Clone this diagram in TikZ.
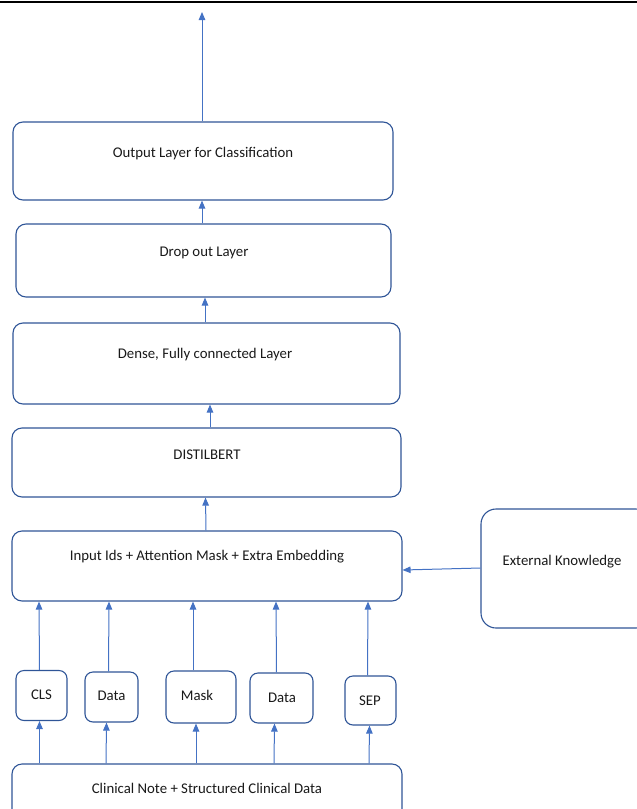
\documentclass[tikz,border=0pt]{standalone}
\usepackage{fontspec}
\setmainfont{Carlito}
\usetikzlibrary{arrows.meta}
\definecolor{boxblue}{HTML}{2F5597}
\definecolor{arrblue}{HTML}{4472C4}
\begin{document}
\begin{tikzpicture}[x=1pt,y=-1pt,
  box/.style={draw=boxblue,line width=1.1pt,rounded corners=10pt,inner sep=0pt},
  tok/.style={draw=boxblue,line width=1.1pt,rounded corners=8pt,inner sep=0pt},
  txt/.style={font=\fontsize{14.8}{17}\selectfont,inner sep=0pt,text=black!90},
  arr/.style={draw=arrblue,line width=1pt,-{Triangle[length=8pt,width=6.5pt]}}]
\useasboundingbox (0,0) rectangle (637,809);
\draw[black,line width=1.3pt] (0,2) -- (637,2);
% main boxes
\node[box,minimum width=380pt,minimum height=78pt] (out) at (203,161) {};
\node[txt] (outt) at (203,154) {Output Layer for Classification};
\node[box,minimum width=375pt,minimum height=73pt] (drop) at (203.5,260.5) {};
\node[txt] (dropt) at (204,253) {Drop out Layer};
\node[box,minimum width=387pt,minimum height=81pt] (dense) at (206.5,363.5) {};
\node[txt] (denset) at (205,355) {Dense, Fully connected Layer};
\node[box,minimum width=389pt,minimum height=69pt] (bert) at (206.5,462.5) {};
\node[txt] (bertt) at (207,455) {DISTILBERT};
\node[box,minimum width=390pt,minimum height=70pt] (inp) at (207,566) {};
\node[txt] (inpt) at (207,557) {Input Ids + Attention Mask + Extra Embedding};
\node[box,rounded corners=15pt,minimum width=170pt,minimum height=119pt] (ext) at (566,568.5) {};
\node[txt] (extt) at (562,562) {External Knowledge};
% tokens
\node[tok,minimum width=51pt,minimum height=50pt] (cls) at (41.5,695.5) {};
\node[txt] (clst) at (41.5,695) {CLS};
\node[tok,minimum width=53pt,minimum height=50pt] (d1) at (111.5,697) {};
\node[txt] (d1t) at (111.5,696) {Data};
\node[tok,minimum width=70pt,minimum height=52pt] (mask) at (201,697) {};
\node[txt] (maskt) at (197,695) {Mask};
\node[tok,minimum width=63pt,minimum height=50pt] (d2) at (281.5,698) {};
\node[txt] (d2t) at (282,698) {Data};
\node[tok,minimum width=51pt,minimum height=49pt] (sep) at (370.5,700.5) {};
\node[txt] (sept) at (370,701) {SEP};
\node[box,minimum width=390pt,minimum height=90pt] (clin) at (207,809) {};
\node[txt] (clint) at (207,788) {Clinical Note + Structured Clinical Data};
\coordinate (topend) at (202,12);
% arrows
\draw[arr] ([xshift=-1pt]out.north) -- (topend);
\draw[arr] ([xshift=-1.5pt]drop.north) -- ([xshift=-1pt]out.south);
\draw[arr] ([xshift=-1.5pt]dense.north) -- ([xshift=1.5pt]drop.south);
\draw[arr] ([xshift=3.5pt]bert.north) -- ([xshift=3.5pt]dense.south);
\draw[arr] ([xshift=-1pt]inp.north) -- ([xshift=-1pt]bert.south);
\draw[arr] (ext.west |- 0,568) -- (inp.east |- 0,570);
\draw[arr] ([xshift=-2pt]cls.north) -- ([xshift=-168pt]inp.south);
\draw[arr] ([xshift=-3pt]d1.north) -- ([xshift=-98pt]inp.south);
\draw[arr] ([xshift=-8pt]mask.north) -- ([xshift=-14pt]inp.south);
\draw[arr] ([xshift=-5pt]d2.north) -- ([xshift=69pt]inp.south);
\draw[arr] ([xshift=-3pt]sep.north) -- ([xshift=161pt]inp.south);
\draw[arr] (clin.north -| cls.south) ++(-2pt,0) -- ([xshift=-2pt]cls.south);
\draw[arr] ([xshift=-101pt]clin.north) -- ([xshift=-5pt]d1.south);
\draw[arr] ([xshift=-11pt]clin.north) -- ([xshift=-5pt]mask.south);
\draw[arr] ([xshift=67pt]clin.north) -- ([xshift=-7pt]d2.south);
\draw[arr] ([xshift=162pt]clin.north) -- ([xshift=-1pt]sep.south);
\end{tikzpicture}
\end{document}
